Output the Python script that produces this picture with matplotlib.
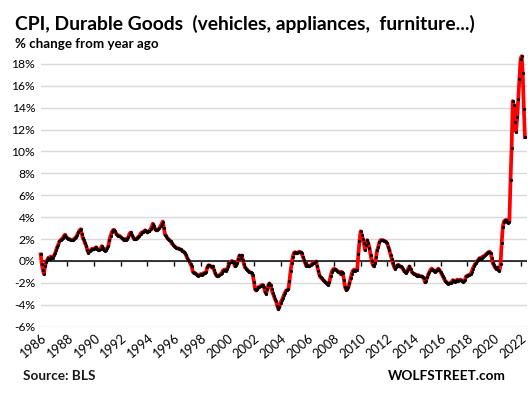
import matplotlib
matplotlib.use('Agg')
import matplotlib.pyplot as plt
import matplotlib.dates as mdates
import matplotlib.ticker as mticker
import pandas as pd

# CPI durable goods, % change from year ago, monthly
v1986 = [0.6, -0.3, -0.8, -1.2, -0.5, -0.1, 0.1, 0.3, 0.2, 0.4, 0.3, 0.3]
v1987 = [0.5, 0.7, 1.0, 1.3, 1.5, 1.8, 1.9, 2.0, 2.1, 2.3, 2.4, 2.2]
v1988 = [2.1, 2.0, 2.0, 1.9, 1.9, 1.9, 2.0, 2.1, 2.2, 2.4, 2.6, 2.8]
v1989 = [2.9, 2.5, 2.1, 1.9, 1.6, 1.4, 1.0, 0.75, 0.9, 1.0, 1.1, 1.05]
v1990 = [1.1, 1.2, 1.25, 1.1, 1.0, 1.0, 1.1, 1.35, 1.2, 1.0, 0.95, 1.0]
v1991 = [1.2, 1.4, 1.9, 2.3, 2.6, 2.8, 2.85, 2.7, 2.5, 2.4, 2.3, 2.3]
v1992 = [2.2, 2.1, 2.0, 1.9, 2.0, 1.9, 2.0, 2.2, 2.5, 2.6, 2.4, 2.2]
v1993 = [2.0, 2.0, 2.0, 2.1, 2.2, 2.3, 2.5, 2.6, 2.6, 2.7, 2.8, 2.7]
v1994 = [2.6, 2.7, 2.7, 2.9, 3.1, 3.4, 3.2, 2.9, 2.8, 2.8, 2.9, 3.0]
v1995 = [3.2, 3.4, 3.6, 3.0, 2.4, 2.3, 2.1, 2.0, 1.9, 1.8, 1.6, 1.5]
v1996 = [1.4, 1.3, 1.2, 1.15, 1.15, 1.1, 1.05, 0.95, 0.9, 0.8, 0.7, 0.5]
v1997 = [0.25, 0.1, -0.05, -0.3, -0.5, -1.0, -1.1, -1.1, -1.2, -1.3, -1.35, -1.3]
v1998 = [-1.2, -1.3, -1.2, -1.1, -1.1, -1.0, -0.6, -0.4, -0.4, -0.5, -0.6, -0.5]
v1999 = [-0.8, -1.1, -1.3, -1.4, -1.4, -1.3, -1.2, -1.1, -0.9, -0.8, -0.8, -0.9]
v2000 = [-0.7, -0.5, -0.2, -0.1, 0.0, -0.1, -0.2, -0.5, -0.4, -0.2, 0.2, 0.5]
v2001 = [0.3, 0.5, 0.1, -0.3, -0.6, -0.7, -0.8, -0.9, -1.0, -1.05, -1.1, -1.3]
v2002 = [-1.9, -2.6, -2.7, -2.6, -2.4, -2.35, -2.3, -2.2, -2.2, -2.4, -2.8, -3.0]
v2003 = [-2.6, -2.2, -2.05, -2.2, -2.6, -2.95, -3.2, -3.5, -3.7, -4.1, -4.4, -4.2]
v2004 = [-3.8, -3.6, -3.4, -3.1, -2.9, -2.7, -2.65, -2.6, -1.8, -0.9, -0.2, 0.4]
v2005 = [0.75, 0.8, 0.7, 0.75, 0.8, 0.85, 0.8, 0.7, 0.4, 0.1, -0.2, -0.45]
v2006 = [-0.4, -0.45, -0.5, -0.4, -0.3, -0.2, -0.15, -0.1, -0.05, -0.5, -0.9, -1.3]
v2007 = [-1.5, -1.6, -1.7, -1.8, -1.9, -2.0, -2.1, -2.2, -1.9, -1.4, -1.0, -0.8]
v2008 = [-0.7, -0.75, -0.8, -0.9, -1.0, -1.0, -1.2, -1.0, -1.1, -1.75, -2.4, -2.65]
v2009 = [-2.6, -2.4, -2.05, -1.6, -1.2, -0.9, -0.8, -0.9, -0.8, -0.8, 0.6, 1.8]
v2010 = [2.7, 2.4, 2.0, 1.6, 1.0, 1.5, 1.9, 1.6, 1.2, 0.55, 0.0, -0.35]
v2011 = [-0.5, -0.2, 0.4, 1.0, 1.3, 1.7, 1.9, 1.9, 1.9, 1.85, 1.8, 1.75]
v2012 = [1.6, 1.3, 1.0, 0.55, 0.2, -0.2, -0.5, -0.7, -0.6, -0.4, -0.35, -0.5]
v2013 = [-0.5, -0.6, -0.7, -0.9, -1.0, -1.1, -0.9, -0.7, -0.5, -0.7, -1.0, -1.1]
v2014 = [-1.2, -1.2, -1.3, -1.35, -1.3, -1.35, -1.4, -1.4, -1.5, -1.6, -1.95, -1.8]
v2015 = [-1.5, -1.2, -1.0, -0.8, -0.7, -0.8, -0.9, -1.0, -0.9, -0.8, -0.7, -0.8]
v2016 = [-1.0, -1.2, -1.4, -1.6, -1.8, -1.9, -2.0, -2.1, -2.05, -2.0, -1.9, -1.75]
v2017 = [-1.8, -1.9, -1.8, -1.7, -1.8, -1.75, -1.7, -1.8, -1.9, -1.85, -1.7, -1.4]
v2018 = [-1.4, -1.3, -1.3, -1.2, -1.0, -0.7, -0.5, -0.3, -0.2, 0.0, 0.1, 0.25]
v2019 = [0.2, 0.3, 0.4, 0.45, 0.5, 0.6, 0.7, 0.8, 0.85, 0.75, 0.3, -0.2]
v2020 = [-0.4, -0.6, -0.7, -0.6, -0.8, -0.9, -0.3, 1.6, 3.1, 3.6, 3.7, 3.75]
v2021 = [3.6, 3.5, 3.6, 7.4, 10.3, 14.6, 14.2, 12.7, 11.8, 13.1, 14.8, 16.6]
v2022 = [18.4, 18.7, 17.2, 13.9, 11.3]

yearly = [v1986, v1987, v1988, v1989, v1990, v1991, v1992, v1993, v1994, v1995,
          v1996, v1997, v1998, v1999, v2000, v2001, v2002, v2003, v2004, v2005,
          v2006, v2007, v2008, v2009, v2010, v2011, v2012, v2013, v2014, v2015,
          v2016, v2017, v2018, v2019, v2020, v2021, v2022]

y_ticks = list(range(-6, 19, 2))

plt.rcParams['font.family'] = ['Lato', 'DejaVu Sans']


def main():
    values = [v for year in yearly for v in year]
    dates = pd.date_range('1986-01-01', periods=len(values), freq='MS')

    fig = plt.figure(figsize=(5.28, 3.94), dpi=100)
    ax = fig.add_axes([0.077, 0.171, 0.921, 0.692])

    ax.plot(dates, values, color='#ff0000', linewidth=2.7, solid_joinstyle='round',
            marker='o', markersize=2.1, markerfacecolor='black', markeredgecolor='black',
            markeredgewidth=0.2, clip_on=False, zorder=3)

    ax.set_xlim(pd.Timestamp('1986-01-01'), pd.Timestamp('2022-06-25'))
    ax.set_ylim(-6, 18.9)
    ax.set_yticks(y_ticks)
    ax.yaxis.set_major_formatter(mticker.FuncFormatter(lambda v, p: f'{v:.0f}%'))
    ax.grid(True, axis='y', color='#d9d9d9', linewidth=1.0)
    ax.set_axisbelow(True)
    for s in ax.spines.values():
        s.set_visible(False)
    ax.tick_params(axis='y', length=0, labelsize=8.7, pad=4)

    ax.xaxis.set_major_locator(mdates.YearLocator(2))
    ax.xaxis.set_major_formatter(mdates.DateFormatter('%Y'))
    ax.tick_params(axis='x', length=0, labelsize=9.2, pad=4)
    for lab in ax.get_xticklabels():
        lab.set_rotation(40)
        lab.set_ha('right')
        lab.set_rotation_mode('anchor')

    # zero line with tick marks (Excel style axis crossing at 0)
    ax.axhline(0, color='black', linewidth=1.1, zorder=2)
    sec = ax.secondary_xaxis(0, transform=ax.transData)
    sec.xaxis.set_major_locator(mdates.YearLocator(2))
    sec.tick_params(axis='x', direction='out', length=3.5, width=1.0, color='black',
                    labelbottom=False)
    sec.spines['bottom'].set_visible(False)

    fig.text(0.028, 0.925, 'CPI, Durable Goods  (vehicles, appliances,  furniture...)',
             fontsize=13.9, fontweight='bold', color='black')
    fig.text(0.028, 0.878, '% change from year ago', fontsize=9.6, fontweight='bold',
             color='black')
    fig.text(0.043, 0.035, 'Source: BLS', fontsize=9.8, fontweight='bold', color='#1a1a1a')
    fig.text(0.957, 0.035, 'WOLFSTREET.com', fontsize=9.8, fontweight='bold',
             color='black', ha='right')

    plt.savefig('out.png', dpi=100)


if __name__ == "__main__":
    main()
